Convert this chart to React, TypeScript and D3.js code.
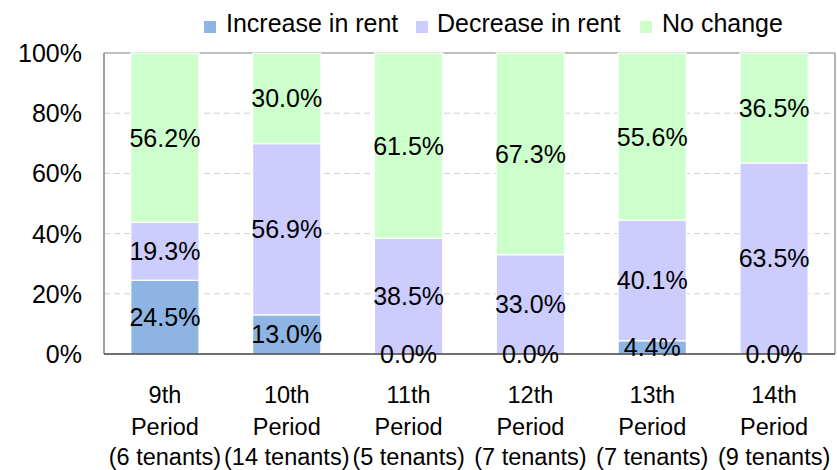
import React from "react";
import * as d3 from "d3";

const categories = ["9th", "10th", "11th", "12th", "13th", "14th"];
const tenantLabels = ["(6 tenants)", "(14 tenants)", "(5 tenants)", "(7 tenants)", "(7 tenants)", "(9 tenants)"];
const seriesNames = ["Increase in rent", "Decrease in rent", "No change"];
const increaseValues = [24.5, 13.0, 0.0, 0.0, 4.4, 0.0];
const decreaseValues = [19.3, 56.9, 38.5, 33.0, 40.1, 63.5];
const noChangeValues = [56.2, 30.0, 61.5, 67.3, 55.6, 36.5];
const yTicks = [0, 20, 40, 60, 80, 100];
const colors = ["#8DB4E2", "#CCCCFF", "#CCFFCC"];

const W = 837;
const H = 470;
const left = 104;
const right = 835;
const top = 53;
const bottom = 354;
const FONT = "Liberation Sans, Arial, sans-serif";

export default function App() {
  const rows = categories.map((c, i) => ({
    cat: c,
    s0: increaseValues[i],
    s1: decreaseValues[i],
    s2: noChangeValues[i],
  }));
  const keys = ["s0", "s1", "s2"];
  const stacked = d3.stack<any>().keys(keys)(rows);
  const x = d3.scaleBand().domain(categories).range([left, right]).paddingInner(0.44).paddingOuter(0.22);
  const y = d3.scaleLinear().domain([0, 100]).range([bottom, top]).clamp(true);

  const legendItems = [
    { sq: 204, tx: 226 },
    { sq: 416, tx: 437 },
    { sq: 640, tx: 662 },
  ];

  return (
    <svg width={W} height={H} style={{ position: "absolute", left: 0, top: 0, background: "#fff" }} fontFamily={FONT}>
      <rect x={0} y={0} width={W} height={H} fill="#fff" />
      {/* gridlines */}
      {yTicks.filter((t) => t > 0 && t < 100).map((t) => (
        <line key={t} x1={left} x2={right} y1={y(t)} y2={y(t)} stroke="#D0D0D0" strokeWidth={1} strokeDasharray="6,4" />
      ))}
      <line x1={left} x2={right} y1={y(100)} y2={y(100)} stroke="#808080" strokeWidth={1.2} />
      <line x1={right} x2={right} y1={top} y2={bottom} stroke="#808080" strokeWidth={1.2} />
      {/* bars */}
      {stacked.map((layer, li) => (
        <g key={li}>
          {layer.map((d, i) => (
            <rect
              key={i}
              x={x(categories[i])}
              width={x.bandwidth()}
              y={y(d[1])}
              height={Math.max(0, y(d[0]) - y(d[1]))}
              fill={colors[li]}
              stroke="#fff"
              strokeWidth={1.2}
            />
          ))}
        </g>
      ))}
      {/* axes */}
      <line x1={left} x2={left} y1={top} y2={bottom} stroke="#808080" strokeWidth={1.5} />
      <line x1={left} x2={right} y1={bottom} y2={bottom} stroke="#404040" strokeWidth={1.5} />
      {/* data labels */}
      {stacked.map((layer, li) => (
        <g key={"l" + li}>
          {layer.map((d, i) => (
            <text
              key={i}
              x={(x(categories[i]) as number) + x.bandwidth() / 2}
              y={(y(d[0]) + y(d[1])) / 2}
              textAnchor="middle"
              dominantBaseline="central"
              fontSize={25}
              fill="#000"
            >
              {(d[1] - d[0]).toFixed(1)}%
            </text>
          ))}
        </g>
      ))}
      {/* y ticks */}
      {yTicks.map((t) => (
        <text key={t} x={82} y={y(t)} textAnchor="end" dominantBaseline="central" fontSize={25} fill="#000">
          {t}%
        </text>
      ))}
      {/* x labels */}
      {categories.map((c, i) => {
        const cx = (x(c) as number) + x.bandwidth() / 2;
        return (
          <g key={c}>
            <text x={cx} y={395} textAnchor="middle" dominantBaseline="central" fontSize={23.5} fill="#000">{c}</text>
            <text x={cx} y={427} textAnchor="middle" dominantBaseline="central" fontSize={23.5} fill="#000">Period</text>
            <text x={cx} y={457} textAnchor="middle" dominantBaseline="central" fontSize={23.5} fill="#000">{tenantLabels[i]}</text>
          </g>
        );
      })}
      {/* legend */}
      {seriesNames.map((n, i) => (
        <g key={n}>
          <rect x={legendItems[i].sq} y={21} width={12} height={12} fill={colors[i]} />
          <text x={legendItems[i].tx} y={23} dominantBaseline="central" fontSize={25} fill="#000">{n}</text>
        </g>
      ))}
    </svg>
  );
}
